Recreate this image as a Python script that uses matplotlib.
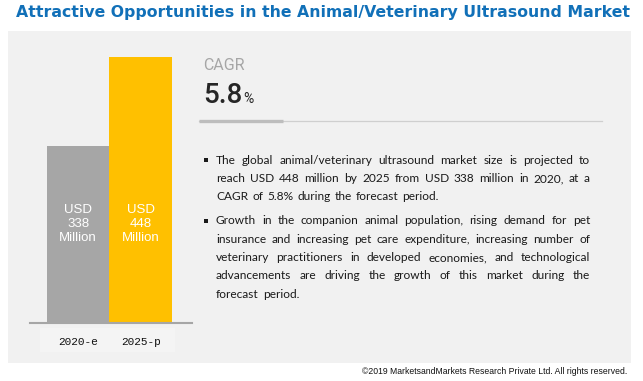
import matplotlib
matplotlib.use("Agg")
import matplotlib.pyplot as plt
from matplotlib.patches import Rectangle
from matplotlib.lines import Line2D

# data
years = ["2020-e", "2025-p"]
values = [338, 448]
bar_colors = ["#a6a6a6", "#ffc000"]
bar_labels = ["USD\n338\nMillion", "USD\n448\nMillion"]
cagr = "5.8"

title = "Attractive Opportunities in the Animal/Veterinary Ultrasound Market"
para1 = ["The global animal/veterinary ultrasound market size is projected to",
         "reach USD 448 million by 2025 from USD 338 million in 2020, at a",
         "CAGR of 5.8% during the forecast period."]
para2 = ["Growth in the companion animal population, rising demand for pet",
         "insurance and increasing pet care expenditure, increasing number of",
         "veterinary practitioners in developed economies, and technological",
         "advancements are driving the growth of this market during the",
         "forecast period."]
copyright_txt = "©2019 MarketsandMarkets Research Private Ltd. All rights reserved."

W, H = 643, 381
fig = plt.figure(figsize=(W / 100, H / 100), dpi=100)
fig.patch.set_facecolor("white")


def fx(px):
    return px / W


def fy(py):
    return 1 - py / H


# grey panel
fig.patches.append(Rectangle((fx(8), fy(363)), fx(631 - 8), (363 - 31) / H,
                             transform=fig.transFigure, facecolor="#f1f1f1",
                             edgecolor="none", zorder=0))
# lighter box behind year labels
fig.patches.append(Rectangle((fx(40), fy(352)), fx(175 - 40), (352 - 328) / H,
                             transform=fig.transFigure, facecolor="#f4f4f4",
                             edgecolor="none", zorder=0))

renderer = fig.canvas.get_renderer()

# title, fitted to width
t = fig.text(fx(16), fy(12), title, fontsize=11, fontweight="bold",
             color="#1170b8", family="DejaVu Sans", va="center", ha="left")
w = t.get_window_extent(renderer).width
t.set_fontsize(11 * 610 / w)

# bar chart
ax = fig.add_axes([fx(30), fy(323), fx(192 - 30), (323 - 50) / H])
ax.set_zorder(3)
ax.set_facecolor("none")
ax.bar(range(len(values)), values, width=1.0, color=bar_colors, zorder=2)
ax.set_xlim(-0.77, 1.82)
ax.set_ylim(121, 456)
for s in ["top", "right", "left"]:
    ax.spines[s].set_visible(False)
ax.spines["bottom"].set_color("#a6a6a6")
ax.spines["bottom"].set_linewidth(1.5)
ax.set_yticks([])
ax.set_xticks(range(len(years)))
ax.set_xticklabels(years, fontsize=8, family="Liberation Mono", color="#111111")
ax.tick_params(axis="x", length=0, pad=10)
for i, lab in enumerate(bar_labels):
    ax.text(i, 0.363, lab, transform=ax.get_xaxis_transform(), ha="center",
            va="center", color="white", fontsize=9.5, family="Liberation Sans",
            linespacing=1.25)

# CAGR block
fig.text(fx(203), fy(66), "CAGR", fontsize=11.5, color="#a6a6a6",
         family="Roboto", va="center", ha="left")
c = fig.text(fx(203), fy(103), cagr, fontsize=20, color="#262626",
             family="Roboto", fontweight="medium", va="baseline", ha="left")
cw = c.get_window_extent(renderer).width
fig.text(fx(203 + cw + 1), fy(103), "%", fontsize=10, color="#262626",
         family="Roboto", va="baseline", ha="left")
fig.lines.append(Line2D([fx(199), fx(602)], [fy(121), fy(121)],
                        transform=fig.transFigure, color="#cfcfcf", lw=0.9))
fig.lines.append(Line2D([fx(199), fx(283)], [fy(120.5), fy(120.5)],
                        transform=fig.transFigure, color="#bdbdbd", lw=2.4,
                        solid_capstyle="butt"))


# justified bullet text
def justify(lines, y0, step, x0=216, x1=590):
    for k, line in enumerate(lines):
        y = y0 + k * step
        words = line.split(" ")
        objs = [fig.text(0, fy(y), wd, fontsize=8.6, family="Lato",
                         color="#1a1a1a", va="baseline", ha="left")
                for wd in words]
        widths = [o.get_window_extent(renderer).width for o in objs]
        last = k == len(lines) - 1
        if last or len(words) == 1:
            gap = 4.0
        else:
            gap = (x1 - x0 - sum(widths)) / (len(words) - 1)
        x = x0
        for o, wdt in zip(objs, widths):
            o.set_x(fx(x))
            x += wdt + gap
    fig.patches.append(Rectangle((fx(204), fy(y0 - 2)), fx(4), 4 / H,
                                 transform=fig.transFigure, facecolor="#1a1a1a",
                                 edgecolor="none", zorder=2))


justify(para1, 164, 18.2)
justify(para2, 224.5, 18.3)

fig.text(fx(627), fy(372), copyright_txt, fontsize=6.2, family="Liberation Sans",
         color="#111111", va="center", ha="right")

fig.savefig("out.png", dpi=100)
